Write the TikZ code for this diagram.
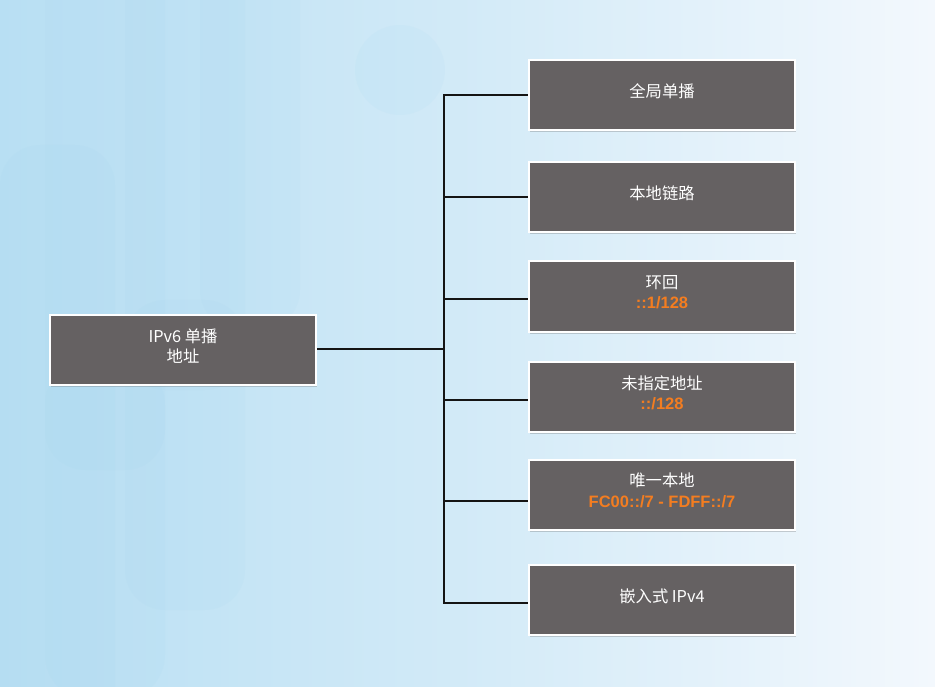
\documentclass[tikz,border=0pt]{standalone}
\usepackage{fontspec}
\setmainfont{Noto Sans CJK SC}
\newfontfamily\orgfont{Liberation Sans}
\usetikzlibrary{shadows}
\definecolor{boxgray}{HTML}{656162}
\definecolor{accent}{HTML}{F47D20}
\definecolor{bgleft}{HTML}{B8DFF3}
\definecolor{bgright}{HTML}{F3F8FD}
\definecolor{stripe}{HTML}{9FD3EE}
\tikzset{
  itembox/.style={draw=white, line width=2pt, fill=boxgray, minimum width=266pt, minimum height=70pt,
    inner sep=2pt, align=center, text=white, font=\fontsize{16.3}{20.5}\selectfont, text depth=9pt,
    drop shadow={shadow xshift=1pt, shadow yshift=-2pt, opacity=0.3, fill=black!60}},
  conn/.style={line width=2.4pt, draw=black!92}
}
\newcommand{\orgline}[1]{{\orgfont\bfseries\fontsize{16.5}{20.5}\selectfont\color{accent}#1}}
\begin{document}
\begin{tikzpicture}[x=1pt,y=-1pt]
\useasboundingbox (0,0) rectangle (935,687);
% background
\shade[left color=bgleft, right color=bgright, middle color=bgleft!55!bgright] (0,0) rectangle (935,687);
\begin{scope}[fill=stripe, opacity=0.09]
  \fill[rounded corners=40pt] (0,145) rectangle (115,760);
  \fill[rounded corners=40pt] (45,-60) rectangle (165,470);
  \fill[rounded corners=40pt] (125,-60) rectangle (245,390);
  \fill[rounded corners=45pt] (45,360) rectangle (165,700);
  \fill[rounded corners=40pt] (125,300) rectangle (245,610);
  \fill[rounded corners=40pt] (200,-60) rectangle (300,330);
  \fill (400,70) circle (45);
\end{scope}
% nodes
\node[itembox] (root) at (183,350) {IPv6 单播\\地址};
\node[itembox] (b1) at (662,95) {全局单播};
\node[itembox] (b2) at (662,197) {本地链路};
\node[itembox] (b3) at (662,296.5) {环回\\\orgline{::1/128}};
\node[itembox] (b4) at (662,397) {未指定地址\\\orgline{::/128}};
\node[itembox] (b5) at (662,494.5) {唯一本地\\\orgline{FC00::/7 - FDFF::/7}};
\node[itembox] (b6) at (662,600) {嵌入式 IPv4};
% junctions
\coordinate (j0) at (444,349);
\coordinate (j1) at (444,95);
\coordinate (j2) at (444,197);
\coordinate (j3) at (444,299);
\coordinate (j4) at (444,400);
\coordinate (j5) at (444,501);
\coordinate (j6) at (444,603);
% connectors
\draw[conn] (root.east |- j0) -- (j0);
\draw[conn, line cap=rect] (j1) -- (j6);
\draw[conn] (j1) -- (j1 -| b1.west);
\draw[conn] (j2) -- (j2 -| b2.west);
\draw[conn] (j3) -- (j3 -| b3.west);
\draw[conn] (j4) -- (j4 -| b4.west);
\draw[conn] (j5) -- (j5 -| b5.west);
\draw[conn] (j6) -- (j6 -| b6.west);
\end{tikzpicture}
\end{document}
